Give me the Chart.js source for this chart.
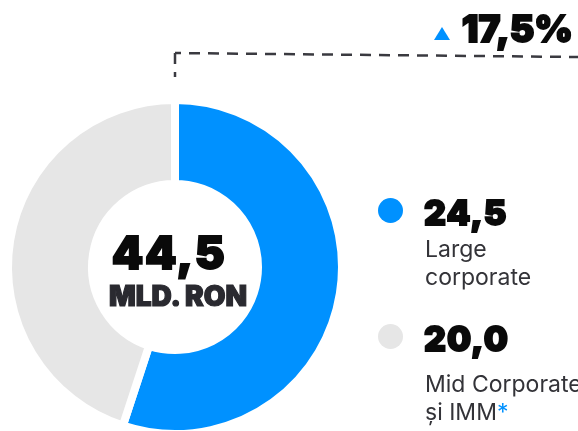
<!DOCTYPE html>
<html>
<head>
<meta charset="utf-8">
<script src="https://cdn.jsdelivr.net/npm/chart.js@4/dist/chart.umd.min.js"></script>
<style>
  html, body { margin: 0; padding: 0; background: #fff; }
  #wrap { position: relative; width: 578px; height: 431px; overflow: hidden; }
  canvas { position: absolute; left: 0; top: 0; }
  .t { position: absolute; white-space: nowrap; font-family: Inter, "Noto Sans", sans-serif; }
  .heavy { font-weight: 900; color: #0a0a0a; letter-spacing: 1px; -webkit-text-stroke: 1.8px currentColor; }
  .lbl { font-size: 23px; line-height: 28px; color: #333338; font-weight: 400; }
  .dot { position: absolute; width: 25px; height: 25px; border-radius: 50%; }
  .tri { position: absolute; width: 0; height: 0; border-left: 8px solid transparent; border-right: 8px solid transparent; border-bottom: 13px solid #0091ff; }
</style>
</head>
<body>
<div id="wrap">
  <canvas id="c" width="578" height="431"></canvas>
</div>
<script>
// ---- data ----
const categories = ['Large corporate', 'Mid Corporate și IMM'];
const labelLines = [['Large', 'corporate'], ['Mid Corporate', 'și IMM']];
const values = [24.5, 20.0];
const colors = ['#0091ff', '#e6e6e6'];
const totalUnit = 'MLD. RON';
const growthLabel = '17,5%';

const fmt = v => v.toFixed(1).replace('.', ',');
const total = values.reduce((a, b) => a + b, 0);

// dashed connector line plugin
const connector = {
  id: 'connector',
  afterDraw(chart) {
    const c = chart.ctx;
    const meta = chart.getDatasetMeta(0);
    const cx = meta.data[0].x;
    c.save();
    c.strokeStyle = '#3a3a40';
    c.lineWidth = 2.5;
    c.setLineDash([11, 8]);
    c.beginPath();
    c.moveTo(cx, 53);
    c.lineTo(cx, 77);
    c.stroke();
    c.lineDashOffset = 5;
    c.beginPath();
    c.moveTo(cx, 53);
    c.lineTo(578, 57);
    c.stroke();
    c.restore();
  }
};

new Chart(document.getElementById('c'), {
  type: 'doughnut',
  data: {
    labels: categories,
    datasets: [{
      data: values,
      backgroundColor: colors,
      borderColor: '#ffffff',
      borderWidth: 8,
      hoverOffset: 0
    }]
  },
  options: {
    responsive: false,
    animation: false,
    radius: 167,
    cutout: '49.7%',
    layout: { padding: { left: 4, right: 232, top: 103, bottom: 0 } },
    plugins: { legend: { display: false }, tooltip: { enabled: false } }
  },
  plugins: [connector]
});

// ---- text overlays ----
const wrap = document.getElementById('wrap');
function add(html, cls, style) {
  const d = document.createElement('div');
  d.className = 't ' + cls;
  d.innerHTML = html;
  Object.assign(d.style, style);
  wrap.appendChild(d);
  return d;
}
// center total
add(fmt(total), 'heavy', { fontSize: '45px', lineHeight: '45px', left: '0px', width: '338px', textAlign: 'center', top: '230px', letterSpacing: '1.5px' });
add(totalUnit, 'heavy', { fontSize: '28px', lineHeight: '28px', left: '9px', width: '338px', textAlign: 'center', top: '282px', color: '#2a2a30', letterSpacing: '0px', webkitTextStroke: '1.2px #2a2a30' });
// growth
add(growthLabel, 'heavy', { fontSize: '37px', lineHeight: '37px', right: '5px', top: '10px', letterSpacing: '0px' });
const tri = document.createElement('div');
tri.className = 'tri';
Object.assign(tri.style, { left: '434px', top: '27px' });
wrap.appendChild(tri);

// legend
const rowsTop = [198, 324];
const lblTop = [235, 370];
values.forEach((v, i) => {
  const dot = document.createElement('div');
  dot.className = 'dot';
  Object.assign(dot.style, { left: '378px', top: (rowsTop[i]) + 'px', background: colors[i] });
  wrap.appendChild(dot);
  add(fmt(v), 'heavy', { fontSize: '34px', lineHeight: '34px', left: '424px', top: (rowsTop[i] - 2) + 'px' });
  const lines = labelLines[i].slice();
  if (i === 1) lines[1] = lines[1] + '<span style="color:#0091ff">*</span>';
  add(lines.join('<br>'), 'lbl', { left: '425px', top: lblTop[i] + 'px' });
});
</script>
</body>
</html>
